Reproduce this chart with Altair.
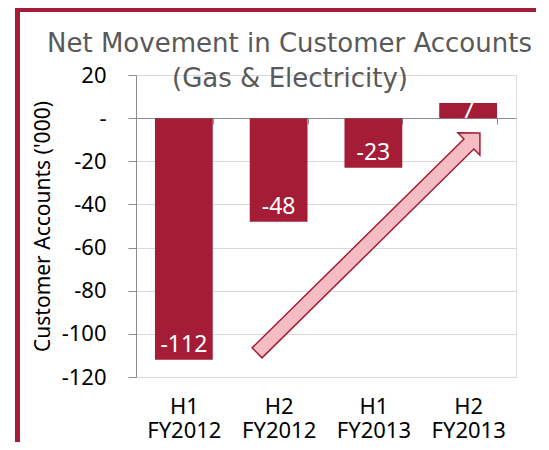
import altair as alt
import pandas as pd

periods = ["H1 FY2012", "H2 FY2012", "H1 FY2013", "H2 FY2013"]
net_movement = [-112, -48, -23, 7]
y_ticks = [20, 0, -20, -40, -60, -80, -100, -120]

title_line1 = "Net Movement in Customer Accounts"
title_line2 = "(Gas & Electricity)"
y_title = "Customer Accounts ('000)"

CRIMSON = "#a51c36"
df = pd.DataFrame({"period": periods, "value": net_movement})

x_enc = alt.X(
    "period:N", sort=periods, title=None,
    scale=alt.Scale(paddingInner=0.39, paddingOuter=0.2),
    axis=alt.Axis(
        orient="bottom", offset=-259, domainColor="#8c8c8c", domainWidth=1,
        tickColor="#8c8c8c", tickSize=6, tickBand="extent",
        labelExpr="split(datum.label, ' ')", labelFont="Noto Sans",
        labelFontSize=22, labelColor="#000000", labelPadding=272,
        labelLineHeight=24, labelAngle=0, grid=False,
    ),
)
y_enc = alt.Y(
    "value:Q", title=y_title,
    scale=alt.Scale(domain=[-120, 20], nice=False, zero=False),
    axis=alt.Axis(
        values=y_ticks,
        labelExpr="datum.value == 0 ? '-\u2007\u2009' : toString(datum.value)",
        labelFont="Noto Sans", labelFontSize=22, labelColor="#000000",
        labelPadding=22, tickSize=8, tickColor="#8c8c8c", domainColor="#8c8c8c",
        gridColor="#d9d9d9", gridWidth=1,
        titleFont="Noto Sans", titleFontSize=21, titleFontWeight="normal",
        titleColor="#000000", titlePadding=8,
    ),
)

base = alt.Chart(df).transform_calculate(lbl="toString(datum.value)")
bars = base.mark_bar(color=CRIMSON).encode(x=x_enc, y=y_enc)

neg_labels = base.transform_filter("datum.value < 0").mark_text(
    color="white", font="Noto Sans", fontSize=23, baseline="alphabetic", dy=-8
).encode(x=alt.X("period:N", sort=periods), y="value:Q", text="lbl:N")

pos_labels = base.transform_filter("datum.value >= 0").mark_text(
    color="white", font="Noto Sans", fontSize=23, baseline="top", dy=-3
).encode(x=alt.X("period:N", sort=periods), y="value:Q", text="lbl:N")

one = pd.DataFrame({"a": [0]})

# chart title drawn as two text lines overlapping the plot top, as in the reference
title1 = alt.Chart(one).mark_text(
    font="DejaVu Sans", fontSize=26, color="#595959", align="center", baseline="alphabetic"
).encode(x=alt.value(153.5), y=alt.value(-23), text=alt.value(title_line1))
title2 = alt.Chart(one).mark_text(
    font="DejaVu Sans", fontSize=26, color="#595959", align="center", baseline="alphabetic"
).encode(x=alt.value(154), y=alt.value(12), text=alt.value(title_line2))

# decorative block arrow (annotation)
arrow_path = ("M -1 -0.045 L 0.901 -0.045 L 0.901 -0.1 L 1 0 "
              "L 0.901 0.1 L 0.901 0.045 L -1 0.045 Z")
arrow = alt.Chart(one).mark_point(
    shape=arrow_path, filled=True, fill="#f5bcc3", stroke=CRIMSON,
    strokeWidth=1.5, opacity=1, size=97969, angle=315.4,
).encode(x=alt.value(232.5), y=alt.value(168))

# frame border
frame_left = alt.Chart(one).mark_rule(
    color=CRIMSON, strokeWidth=5
).encode(x=alt.value(-118.5), y=alt.value(-67), y2=alt.value(367))
frame_top = alt.Chart(one).mark_rule(
    color=CRIMSON, strokeWidth=4
).encode(x=alt.value(-121), x2=alt.value(400), y=alt.value(-65))

chart = alt.layer(
    bars, neg_labels, pos_labels, arrow, title1, title2, frame_left, frame_top
).properties(
    width=380, height=302,
    autosize=alt.AutoSizeParams(type="none"),
    padding={"left": 128, "top": 67, "right": 25, "bottom": 65},
).configure_view(stroke=None).configure(background="white")

chart.save("out.html", embed_options={"renderer": "svg", "actions": False})
